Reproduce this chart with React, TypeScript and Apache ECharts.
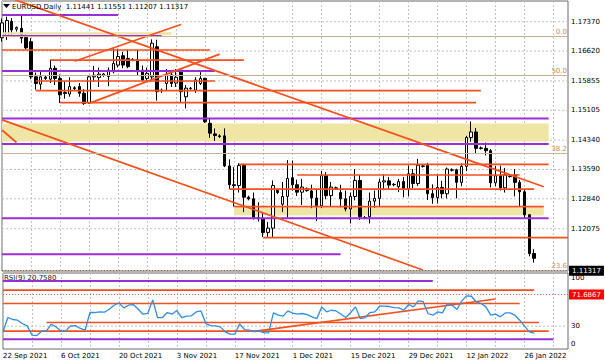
import React, { useEffect, useRef } from "react";
import * as echarts from "echarts";

// ---------- data ----------
const symbolName = "EURUSD,Daily";
const dateTicks = ["22 Sep 2021", "6 Oct 2021", "20 Oct 2021", "3 Nov 2021", "17 Nov 2021", "1 Dec 2021", "15 Dec 2021", "29 Dec 2021", "12 Jan 2022", "26 Jan 2022"];
const priceTicks = [1.1737, 1.1662, 1.15855, 1.15105, 1.1434, 1.1359, 1.1284, 1.12075];
const rsiTicks = [0, 30, 100];
const rsiLevel = 71.6867;
const rsiGuide = 30;

const opens = [1.1696,1.1700,1.1738,1.1718,1.1720,1.1697,1.1686,1.1596,1.1577,1.1595,
 1.1590,1.1618,1.1592,1.1553,1.1552,1.1568,1.1571,1.1554,1.1530,1.1596,
 1.1594,1.1600,1.1597,1.1609,1.1626,1.1650,1.1643,1.1640,1.1640,1.1613,
 1.1592,1.1596,1.1673,1.1560,1.1579,1.1601,1.1580,1.1613,1.1545,1.1567,
 1.1562,1.1579,1.1592,1.1477,1.1450,1.1445,1.1445,1.1368,1.1320,1.1318,
 1.1369,1.1288,1.1284,1.1236,1.1233,1.1198,1.1209,1.1305,1.1270,1.1290,
 1.1338,1.1320,1.1301,1.1310,1.1304,1.1286,1.1266,1.1343,1.1292,1.1312,
 1.1300,1.1284,1.1258,1.1290,1.1331,1.1236,1.1238,1.1278,1.1285,1.1327,
 1.1330,1.1320,1.1315,1.1328,1.1310,1.1348,1.1323,1.1368,1.1370,1.1297,
 1.1287,1.1313,1.1297,1.1358,1.1358,1.1326,1.1367,1.1441,1.1455,1.1414,
 1.1413,1.1407,1.1325,1.1343,1.1312,1.1342,1.1345,1.1326,1.1302,1.1243,
 1.11441];
const highs = [1.1745,1.1750,1.1746,1.1725,1.1752,1.1705,1.1695,1.1607,1.1610,1.1598,
 1.1640,1.1625,1.1602,1.1585,1.1595,1.1572,1.1580,1.1565,1.1600,1.1624,
 1.1620,1.1606,1.1620,1.1669,1.1668,1.1660,1.1665,1.1644,1.1665,1.1625,
 1.1620,1.1692,1.1691,1.1566,1.1616,1.1610,1.1616,1.1616,1.1575,1.1570,
 1.1595,1.1608,1.1594,1.1488,1.1464,1.1449,1.1464,1.1385,1.1365,1.1375,
 1.1374,1.1292,1.1300,1.1275,1.1250,1.1225,1.1331,1.1310,1.1327,1.1383,
 1.1382,1.1333,1.1335,1.1313,1.1320,1.1310,1.1355,1.1352,1.1327,1.1315,
 1.1320,1.1305,1.1300,1.1360,1.1345,1.1240,1.1300,1.1305,1.1335,1.1346,
 1.1340,1.1324,1.1335,1.1340,1.1369,1.1360,1.1386,1.1372,1.1376,1.1321,
 1.1346,1.1330,1.1364,1.1362,1.1361,1.1375,1.1445,1.1482,1.1465,1.1418,
 1.1428,1.1411,1.1368,1.1369,1.1363,1.1346,1.1360,1.1332,1.1309,1.1245,
 1.11551];
const lows = [1.1686,1.1690,1.1700,1.1712,1.1682,1.1666,1.1590,1.1563,1.1563,1.1588,
 1.1580,1.1575,1.1529,1.1540,1.1545,1.1562,1.1545,1.1524,1.1527,1.1584,
 1.1570,1.1596,1.1572,1.1605,1.1620,1.1618,1.1618,1.1636,1.1600,1.1585,
 1.1584,1.1590,1.1535,1.1555,1.1560,1.1570,1.1570,1.1530,1.1515,1.1563,
 1.1555,1.1575,1.1478,1.1440,1.1432,1.1440,1.1365,1.1309,1.1264,1.1300,
 1.1250,1.1280,1.1231,1.1226,1.1186,1.1186,1.1186,1.1296,1.1250,1.1236,
 1.1305,1.1291,1.1268,1.1302,1.1260,1.1227,1.1260,1.1283,1.1263,1.1308,
 1.1262,1.1252,1.1221,1.1280,1.1230,1.1232,1.1221,1.1261,1.1265,1.1306,
 1.1310,1.1316,1.1301,1.1288,1.1290,1.1311,1.1317,1.1364,1.1281,1.1271,
 1.1272,1.1285,1.1285,1.1354,1.1285,1.1316,1.1355,1.1430,1.1400,1.1410,
 1.1395,1.1313,1.1316,1.1305,1.1300,1.1338,1.1290,1.1264,1.1235,1.1137,
 1.11207];
const closes = [1.1734,1.1740,1.1716,1.1722,1.1695,1.1670,1.1596,1.1579,1.1596,1.1592,
 1.1618,1.1592,1.1550,1.1556,1.1571,1.1566,1.1554,1.1528,1.1596,1.1600,
 1.1603,1.1603,1.1613,1.1630,1.1648,1.1626,1.1622,1.1639,1.1609,1.1588,
 1.1605,1.1682,1.1558,1.1562,1.1601,1.1579,1.1595,1.1558,1.1567,1.1566,
 1.1588,1.1592,1.1481,1.1452,1.1446,1.1443,1.1368,1.1320,1.1318,1.1369,
 1.1288,1.1284,1.1236,1.1233,1.1198,1.1209,1.1318,1.1300,1.1290,1.1336,
 1.1320,1.1301,1.1314,1.1305,1.1286,1.1266,1.1343,1.1292,1.1314,1.1311,
 1.1284,1.1258,1.1290,1.1331,1.1238,1.1235,1.1278,1.1285,1.1327,1.1330,
 1.1319,1.1321,1.1328,1.1310,1.1348,1.1323,1.1370,1.1367,1.1297,1.1287,
 1.1313,1.1297,1.1360,1.1357,1.1326,1.1367,1.1441,1.1455,1.1413,1.1413,
 1.1407,1.1325,1.1343,1.1312,1.1345,1.1341,1.1326,1.1302,1.1243,1.1144,
 1.11317];

const rsiValues = [22.8, 41.4, 38.8, 37.9, 33.5, 30.4, 18.2, 17.7, 23.4, 23.8,
 32.6, 29.1, 23.8, 23.8, 30.4, 30.8, 27.0, 24.7, 48.0, 48.0,
 48.8, 48.4, 52.4, 57.6, 60.7, 54.1, 57.6, 58.5, 52.4, 45.8,
 47.0, 64.6, 41.4, 41.4, 48.0, 45.8, 50.6, 41.4, 43.2, 43.6,
 48.8, 50.1, 33.5, 30.8, 30.4, 29.1, 22.5, 19.5, 19.5, 33.1,
 25.6, 24.7, 22.9, 23.4, 21.6, 21.1, 47.5, 44.5, 43.2, 50.1,
 47.1, 45.8, 46.7, 45.3, 42.3, 40.1, 55.4, 48.8, 51.0, 50.1,
 45.8, 41.4, 48.0, 55.4, 40.1, 41.4, 48.0, 48.8, 56.3, 56.3,
 55.9, 54.5, 54.1, 51.0, 58.5, 55.4, 63.3, 62.4, 46.7, 44.5,
 48.8, 47.5, 59.8, 57.6, 51.9, 63.3, 69.9, 69.4, 61.9, 59.8,
 55.4, 44.5, 45.8, 42.3, 47.5, 47.5, 44.5, 37.9, 30.0, 22.5,
 20.758];

// segments: [startBar, startValue, endBar, endValue]
type Seg = [number, number, number, number];
const purpleLines: Seg[] = [
  [0, 1.17541, 24, 1.17541],
  [0, 1.17004, 33, 1.17004],
  [0, 1.16109, 44, 1.16109],
  [0, 1.14894, 113, 1.14894],
  [0, 1.14242, 113, 1.14242],
  [0, 1.12341, 113, 1.12341],
  [0, 1.1142, 70, 1.1142],
];
const orangeLines: Seg[] = [
  [0, 1.16646, 43, 1.16646],
  [10, 1.1639, 50, 1.1639],
  [7, 1.15853, 44, 1.15853],
  [7, 1.15605, 99, 1.15605],
  [12, 1.15298, 98, 1.15298],
  [49, 1.13722, 113, 1.13722],
  [61, 1.13449, 107, 1.13449],
  [47, 1.1309, 110, 1.1309],
  [48, 1.12638, 112, 1.12638],
  [54, 1.11845, 117, 1.11845],
  [2, 1.1796, 112, 1.1315],
  [15, 1.1636, 37, 1.173],
  [18, 1.1528, 45, 1.1654],
  [0, 1.1486, 87, 1.1102],
  [0, 1.146, 3, 1.1428],
];
const khakiLines: Seg[] = [[0, 1.17068, 35, 1.17068]];
const zones: Seg[] = [
  [0, 1.14766, 113, 1.14306],
  [48, 1.12617, 112, 1.12413],
];
const fibLabels = ["0.0", "50.0", "38.2", "23.6"];
const fibPrices = [1.17048, 1.15948, 1.13692, 1.1101];

const rsiPurple: Seg[] = [[0, 89.6, 89, 89.6], [0, 12.9, 114, 12.9]];
const rsiOrange: Seg[] = [
  [0, 77.4, 110, 77.4],
  [0, 59.9, 107, 59.9],
  [9, 34.9, 111, 34.9],
  [0, 23.4, 113, 23.4],
  [52, 23.3, 102, 65.8],
];

// ---------- chart ----------
const SLOTS = 118;
const cats = Array.from({ length: SLOTS }, (_, i) => String(i));
const FONT = "DejaVu Sans";
const ORANGE = "#F4511E";
const PURPLE = "#9B2FD6";
const TAN = "#CFAE94";
const GRIDC = "#C2C2C2";

const mkSeg = (s: Seg, color: string, width: number, axis: number, z = 3, type: any = "solid") => ({
  type: "line",
  xAxisIndex: axis,
  yAxisIndex: axis,
  data: [[s[0], s[1]], [s[2], s[3]]],
  symbol: "none",
  silent: true,
  clip: true,
  z,
  lineStyle: { color, width, type },
});

function buildOption() {
  const last = opens.length - 1;
  const candleData = opens.map((o, i) => [o, closes[i], lows[i], highs[i]]);
  const series: any[] = [];

  priceTicks.forEach((p) => series.push(mkSeg([0, p, SLOTS - 1, p], GRIDC, 1, 0, 0, [2, 2])));
  series.push(mkSeg([0, rsiGuide, SLOTS - 1, rsiGuide], GRIDC, 1, 1, 0, [2, 2]));

  series.push({
    type: "candlestick",
    xAxisIndex: 0,
    yAxisIndex: 0,
    data: candleData,
    barWidth: 3,
    silent: true,
    z: 2,
    itemStyle: { color: "#ffffff", color0: "#000000", borderColor: "#000000", borderColor0: "#000000", borderWidth: 1 },
    markArea: {
      silent: true,
      itemStyle: { color: "#EFE6A6" },
      data: zones.map((z) => [{ coord: [z[0], z[1]] }, { coord: [z[2], z[3]] }]),
    },
    markLine: {
      silent: true,
      symbol: ["none", "none"],
      data: [
        ...fibPrices.map((p, k) => ({
          yAxis: p,
          lineStyle: { color: TAN, width: 1, type: "solid" },
          label: { show: true, position: "insideEndTop", formatter: fibLabels[k], color: "#C0906A", fontSize: 7, fontFamily: FONT, distance: 1 },
        })),
        {
          yAxis: closes[last],
          lineStyle: { color: "#6E6E6E", width: 1, type: [1, 2] },
          label: {
            show: true, position: "end", distance: 1, formatter: closes[last].toFixed(5),
            backgroundColor: "#000", color: "#fff", fontSize: 7, fontFamily: FONT, padding: [2, 3, 1, 3],
          },
        },
      ],
    },
  });

  khakiLines.forEach((s) => series.push(mkSeg(s, "#ECE2A2", 2.5, 0, 3)));
  purpleLines.forEach((s) => series.push(mkSeg(s, PURPLE, 2, 0, 3)));
  orangeLines.forEach((s) => series.push(mkSeg(s, ORANGE, 1.7, 0, 4)));

  rsiPurple.forEach((s) => series.push(mkSeg(s, PURPLE, 2, 1, 3)));
  rsiOrange.forEach((s) => series.push(mkSeg(s, ORANGE, 1.7, 1, 3)));

  // RSI window scale labels; the terminal draws the bottom one a few pixels above the floor,
  // so it is anchored slightly inside the range (6 units) and the top one is nudged down.
  const rsiScaleLabels = rsiTicks.map((v) => ({
    yAxis: v === 0 ? v + 6 : v,
    lineStyle: { color: "rgba(0,0,0,0)", width: 0 },
    label: {
      show: true, position: "end", distance: 3,
      formatter: v === 100 ? "{s|" + v + "}" : String(v),
      color: "#000", fontSize: 7, fontFamily: FONT,
      rich: { s: { fontSize: 7, fontFamily: FONT, color: "#000", padding: [9, 0, 0, 0] } },
    },
  }));

  series.push({
    type: "line",
    xAxisIndex: 1,
    yAxisIndex: 1,
    data: rsiValues,
    symbol: "none",
    silent: true,
    z: 4,
    lineStyle: { color: "#2F8FE6", width: 1.3 },
    markLine: {
      silent: true,
      symbol: ["none", "none"],
      data: [
        {
          yAxis: rsiLevel,
          lineStyle: { color: "#F25A5A", width: 1, type: [1, 2] },
          label: {
            show: true, position: "end", distance: 1, formatter: rsiLevel.toFixed(4),
            backgroundColor: "#F00", color: "#fff", fontSize: 7, fontFamily: FONT, padding: [2, 3, 1, 3],
          },
        },
        ...rsiScaleLabels,
      ],
    },
  });

  const xAxisFor = (gi: number, labels: boolean) => ({
    type: "category",
    gridIndex: gi,
    data: cats,
    boundaryGap: false,
    axisLine: { show: false },
    axisTick: { show: false },
    splitLine: { show: true, interval: (i: number) => i % 6 === 0, lineStyle: { color: GRIDC, type: [2, 2], width: 1 } },
    axisLabel: labels
      ? {
          show: true,
          interval: (i: number) => i % 12 === 0,
          formatter: (_v: string, i: number) => dateTicks[i / 12] ?? "",
          align: "left",
          fontSize: 7,
          fontFamily: FONT,
          color: "#000",
          margin: 3,
        }
      : { show: false },
  });

  return {
    animation: false,
    backgroundColor: "#ffffff",
    textStyle: { fontFamily: FONT },
    grid: [
      { left: 2, top: 1, width: 566, height: 270, show: true, borderColor: "#6B6B6B", borderWidth: 1, backgroundColor: "#fff" },
      { left: 2, top: 273, width: 566, height: 76, show: true, borderColor: "#6B6B6B", borderWidth: 1, backgroundColor: "#fff" },
    ],
    xAxis: [xAxisFor(0, false), xAxisFor(1, true)],
    yAxis: [
      {
        type: "value", gridIndex: 0, position: "right", min: 1.10993, max: 1.179, scale: true,
        splitLine: { show: false }, axisLine: { show: false }, axisTick: { show: false },
        axisLabel: {
          customValues: priceTicks, formatter: (v: number) => v.toFixed(5),
          fontSize: 7, fontFamily: FONT, color: "#000", margin: 3,
        },
      },
      {
        type: "value", gridIndex: 1, position: "right", min: 0, max: 100,
        splitLine: { show: false }, axisLine: { show: false }, axisTick: { show: false },
        axisLabel: { show: false },
      },
    ],
    graphic: [
      { type: "polygon", shape: { points: [[3, 4], [10, 4], [6.5, 8]] }, style: { fill: "#000" }, z: 100 },
      {
        type: "text", x: 12, y: 7, z: 100,
        style: {
          text: `${symbolName}  ${opens[last].toFixed(5)} ${highs[last].toFixed(5)} ${lows[last].toFixed(5)} ${closes[last].toFixed(5)}`,
          font: `7px "${FONT}"`, fill: "#000", verticalAlign: "middle",
        },
      },
      {
        type: "text", x: 4, y: 278, z: 100,
        style: { text: `RSI(9) ${rsiValues[last].toFixed(4)}`, font: `7px "${FONT}"`, fill: "#222", verticalAlign: "middle" },
      },
    ],
    series,
  };
}

export default function App() {
  const ref = useRef<HTMLDivElement>(null);
  useEffect(() => {
    document.body.style.margin = "0";
    const chart = echarts.init(ref.current!, null, { renderer: "svg" });
    chart.setOption(buildOption() as any);
    return () => chart.dispose();
  }, []);
  return <div ref={ref} style={{ width: 605, height: 363 }} />;
}
